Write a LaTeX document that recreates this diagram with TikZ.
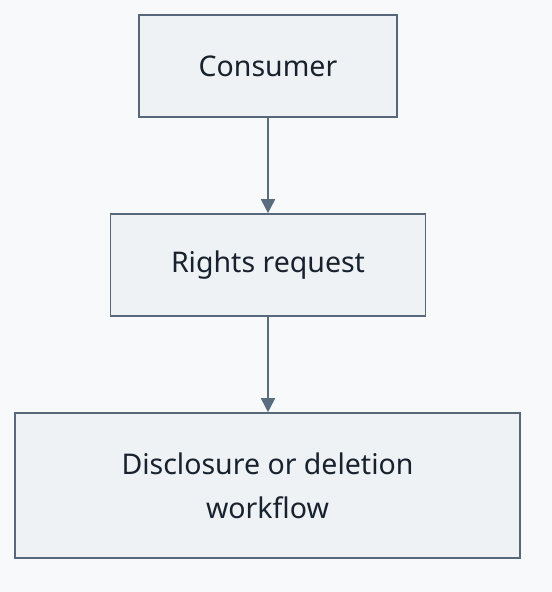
\documentclass[tikz,border=0pt]{standalone}
\usepackage{fontspec}
\setmainfont{Noto Sans}
\usetikzlibrary{arrows.meta}
\definecolor{bg}{HTML}{F7F9FB}
\definecolor{boxfill}{HTML}{EEF2F5}
\definecolor{boxline}{HTML}{56687A}
\definecolor{arrowc}{HTML}{5A6D80}
\definecolor{txt}{HTML}{18222E}
\begin{document}
\begin{tikzpicture}[x=1bp,y=-1bp,
  box/.style={draw=boxline,line width=1.6bp,fill=boxfill,text=txt,align=center,
    font=\fontsize{28.5bp}{44bp}\selectfont,inner sep=0pt,anchor=center},
  conn/.style={draw=arrowc,line width=1.8bp,-{Triangle[length=14bp,width=14bp]},shorten >=0bp}]
\fill[bg] (0,0) rectangle (552,592);
\useasboundingbox (0,0) rectangle (552,592);
\node[box,minimum width=258bp,minimum height=102bp] (a) at (268,66) {Consumer};
\node[box,minimum width=315bp,minimum height=102bp] (b) at (268,265) {Rights request};
\node[box,minimum width=505bp,minimum height=145bp] (c) at (267.5,485.5) {Disclosure or deletion\\workflow};
\draw[conn] (a.south) -- (a.south |- b.north);
\draw[conn] (b.south) -- (b.south |- c.north);
\end{tikzpicture}
\end{document}
